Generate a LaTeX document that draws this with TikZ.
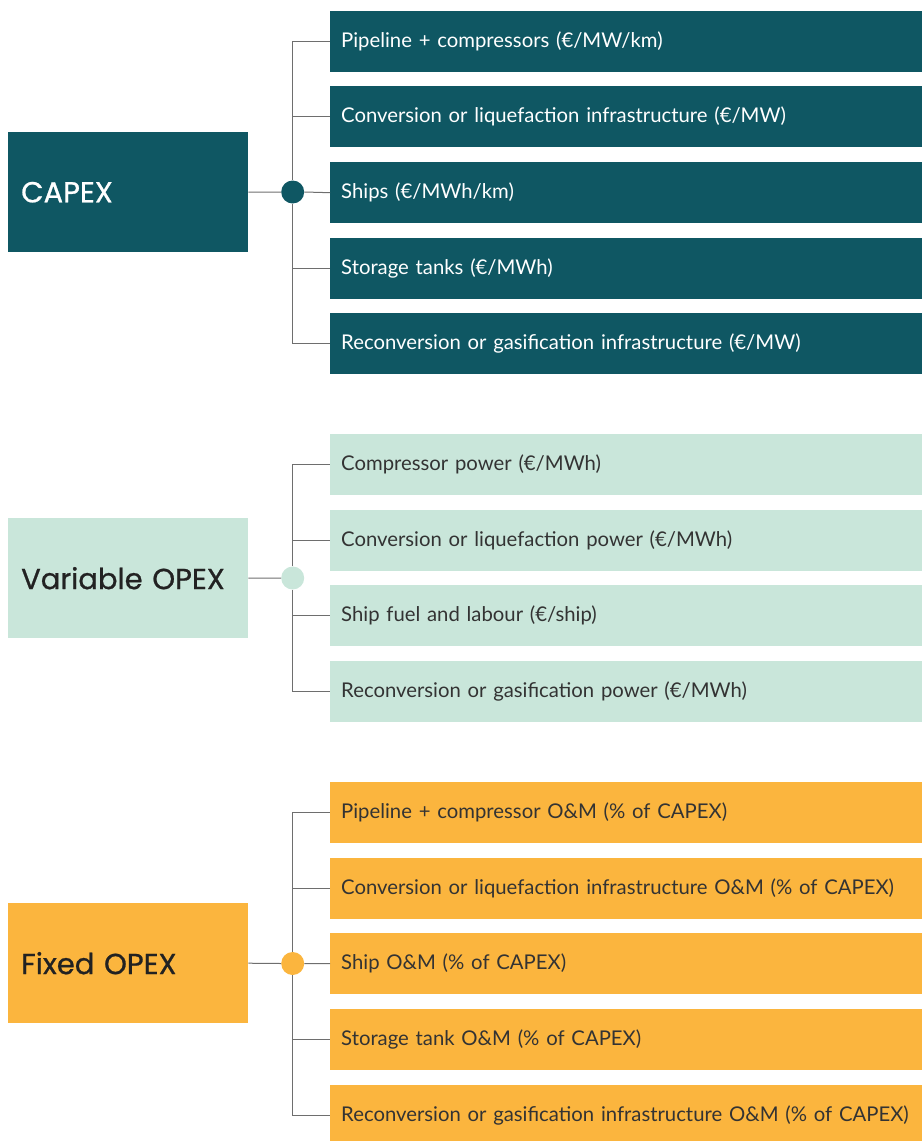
\documentclass[tikz,border=0pt]{standalone}
\usepackage{fontspec}
\setmainfont{Lato}
\newfontfamily\titlefont{Poppins}[FakeBold=0.8]
\definecolor{capexc}{HTML}{0F5763}
\definecolor{varc}{HTML}{C9E6DA}
\definecolor{fixc}{HTML}{FBB53E}
\definecolor{darktext}{HTML}{333333}
\definecolor{titletext}{HTML}{222222}
\definecolor{linec}{HTML}{6E6E6E}
\tikzset{
  x=1pt, y=-1pt,
  mainbox/.style={anchor=north west, minimum width=240pt, minimum height=120pt, inner sep=0pt, text width=240pt, align=left, font=\titlefont\fontsize{29}{31}\selectfont},
  childbox/.style={anchor=north west, minimum width=592pt, minimum height=61pt, inner sep=0pt, text width=592pt, align=left, font=\fontsize{20.3}{23}\selectfont},
  conn/.style={draw=linec, line width=1pt},
  hub/.style={circle, minimum size=23pt, inner sep=0pt},
}
\begin{document}
\begin{tikzpicture}
\useasboundingbox (0,0) rectangle (922,1141);
\clip (0,0) rectangle (922,1141);
% ---------- CAPEX
\node[mainbox, fill=capexc, text=white] (capex) at (8,132) {\hspace*{13pt}CAPEX};
\foreach \y/\t [count=\i] in {11/{Pipeline + compressors (€/MW/km)},86/{Conversion or liquefaction infrastructure (€/MW)},162/{Ships (€/MWh/km)},238/{Storage tanks (€/MWh)},313/{Reconversion or gasification infrastructure (€/MW)}}
  \node[childbox, fill=capexc, text=white] (c\i) at (330,\y) {\hspace*{11pt}\t};
\node[hub, fill=capexc] (hc) at (292.7,192) {};
\draw[conn] (capex.east) -- (hc.west);
\draw[conn] (hc.north) -- (hc.north |- c1.west) -- (c1.west);
\draw[conn] (hc.south) -- (hc.south |- c5.west) -- (c5.west);
\draw[conn] (hc.east) -- (c3.west);
\draw[conn] (hc.center |- c2.west) -- (c2.west);
\draw[conn] (hc.center |- c4.west) -- (c4.west);
% ---------- Variable OPEX
\node[mainbox, fill=varc, text=titletext] (vopex) at (8,518) {\hspace*{13pt}Variable OPEX};
\foreach \y/\t [count=\i] in {434/{Compressor power (€/MWh)},510/{Conversion or liquefaction power (€/MWh)},585/{Ship fuel and labour (€/ship)},661/{Reconversion or gasification power (€/MWh)}}
  \node[childbox, fill=varc, text=darktext] (v\i) at (330,\y) {\hspace*{11pt}\t};
\node[hub, fill=varc] (hv) at (292.7,578) {};
\draw[conn] (vopex.east) -- (hv.west);
\draw[conn] (hv.north) -- (hv.north |- v1.west) -- (v1.west);
\draw[conn] (hv.south) -- (hv.south |- v4.west) -- (v4.west);
\draw[conn] (hv.center |- v2.west) -- (v2.west);
\draw[conn] (hv.center |- v3.west) -- (v3.west);
% ---------- Fixed OPEX
\node[mainbox, fill=fixc, text=titletext] (fopex) at (8,903) {\hspace*{13pt}Fixed OPEX};
\foreach \y/\t [count=\i] in {782/{Pipeline + compressor O\&M (\% of CAPEX)},858/{Conversion or liquefaction infrastructure O\&M (\% of CAPEX)},933/{Ship O\&M (\% of CAPEX)},1009/{Storage tank O\&M (\% of CAPEX)},1085/{Reconversion or gasification infrastructure O\&M (\% of CAPEX)}}
  \node[childbox, fill=fixc, text=darktext] (f\i) at (330,\y) {\hspace*{11pt}\t};
\node[hub, fill=fixc] (hf) at (292.7,963.5) {};
\draw[conn] (fopex.east) -- (hf.west);
\draw[conn] (hf.north) -- (hf.north |- f1.west) -- (f1.west);
\draw[conn] (hf.south) -- (hf.south |- f5.west) -- (f5.west);
\draw[conn] (hf.east) -- (f3.west);
\draw[conn] (hf.center |- f2.west) -- (f2.west);
\draw[conn] (hf.center |- f4.west) -- (f4.west);
\end{tikzpicture}
\end{document}
